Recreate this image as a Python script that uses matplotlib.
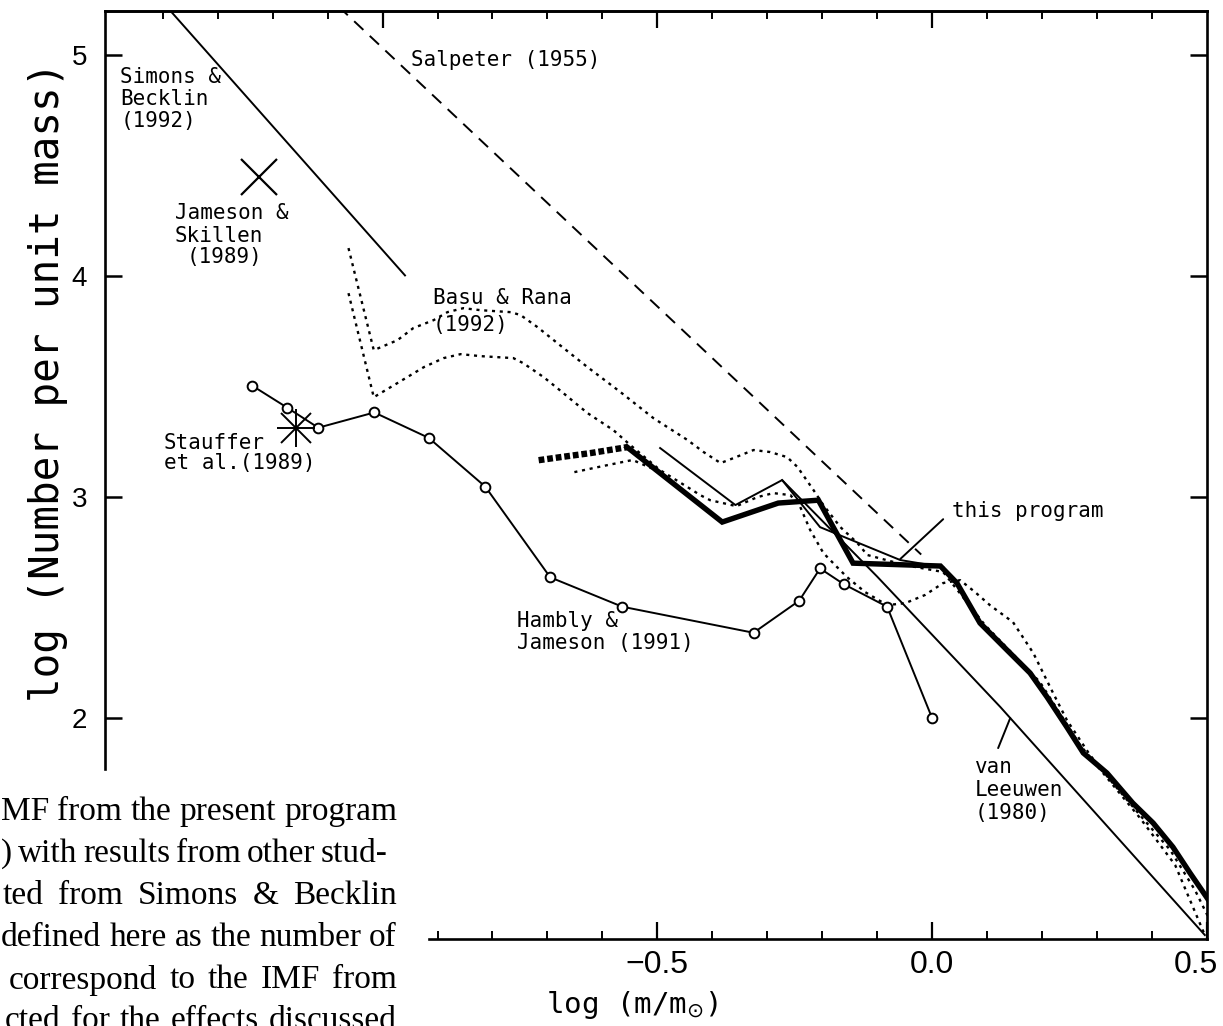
import matplotlib
matplotlib.use("Agg")
import matplotlib.pyplot as plt
import matplotlib.transforms as mtransforms

# ---------------- data (log m, log N) ----------------
simons_x = [-1.40, -0.958]
simons_y = [5.24, 4.00]

salpeter_x = [-1.08, -0.02]
salpeter_y = [5.22, 2.74]

jameson_skillen_x = [-1.225]
jameson_skillen_y = [4.448]

stauffer_x = [-1.158]
stauffer_y = [3.312]

hambly_x = [-1.237, -1.173, -1.117, -1.015, -0.916, -0.813, -0.695, -0.564,
            -0.325, -0.242, -0.204, -0.161, -0.082, 0.0]
hambly_y = [3.504, 3.404, 3.314, 3.383, 3.268, 3.047, 2.637, 2.504,
            2.386, 2.531, 2.677, 2.606, 2.504, 1.999]

basu_upper_x = [-1.062, -1.016, -0.973, -0.944, -0.907, -0.882, -0.853, -0.822,
                -0.767, -0.749, -0.718, -0.682, -0.627, -0.567, -0.507, -0.445,
                -0.416, -0.385, -0.362, -0.325, -0.295, -0.264, -0.245, -0.216,
                -0.198, -0.167, -0.136, -0.118, -0.049, 0.020, 0.096, 0.196,
                0.269, 0.378, 0.442, 0.496]
basu_upper_y = [4.127, 3.665, 3.710, 3.765, 3.801, 3.837, 3.855, 3.846,
                3.837, 3.824, 3.769, 3.697, 3.588, 3.475, 3.357, 3.258,
                3.204, 3.154, 3.176, 3.213, 3.204, 3.181, 3.136, 3.032,
                2.964, 2.864, 2.792, 2.738, 2.692, 2.661, 2.421, 2.163,
                1.878, 1.548, 1.335, 1.018]

basu_lower_x = [-1.062, -1.016, -0.973, -0.925, -0.889, -0.858, -0.822, -0.762,
                -0.744, -0.707, -0.682, -0.627, -0.580, -0.549, -0.495, -0.445,
                -0.422, -0.404, -0.356, -0.318, -0.289, -0.258, -0.240, -0.222,
                -0.198, -0.173, -0.155, -0.122, -0.082, -0.049, -0.013, 0.020,
                0.051, 0.078, 0.105, 0.147, 0.184, 0.220, 0.245, 0.287,
                0.324, 0.378, 0.433, 0.478, 0.505]
basu_lower_y = [3.923, 3.452, 3.516, 3.588, 3.629, 3.647, 3.638, 3.629,
                3.606, 3.543, 3.493, 3.380, 3.303, 3.235, 3.122, 3.045,
                3.009, 2.986, 2.959, 3.000, 3.018, 3.009, 2.955, 2.851,
                2.747, 2.683, 2.638, 2.570, 2.511, 2.520, 2.557, 2.611,
                2.624, 2.570, 2.511, 2.434, 2.294, 2.113, 1.991, 1.833,
                1.719, 1.561, 1.403, 1.222, 1.086]

program_ext_x = [-0.716, -0.676, -0.622, -0.555]
program_ext_y = [3.167, 3.181, 3.199, 3.226]

program_x = [-0.555, -0.382, -0.280, -0.207, -0.144, 0.015, 0.045, 0.087,
             0.136, 0.178, 0.209, 0.245, 0.275, 0.318, 0.365, 0.402, 0.438,
             0.469, 0.509]
program_y = [3.226, 2.887, 2.973, 2.986, 2.701, 2.688, 2.611, 2.430,
             2.308, 2.204, 2.095, 1.959, 1.842, 1.751, 1.615, 1.525, 1.416,
             1.299, 1.154]

short_dot_x = [-0.651, -0.600, -0.545, -0.510]
short_dot_y = [3.113, 3.140, 3.168, 3.130]

thin_x = [-0.495, -0.358, -0.273, -0.204, -0.058, 0.020]
thin_y = [3.222, 2.964, 3.077, 2.864, 2.715, 2.683]

vanleeuwen_x = [-0.273, -0.100, 0.124, 0.496]
vanleeuwen_y = [3.077, 2.640, 2.050, 1.018]

x_major = [-0.5, 0.0, 0.5]
x_major_labels = ["\u22120.5", "0.0", "0.5"]
y_major = [2, 3, 4, 5]
y_major_labels = ["2", "3", "4", "5"]

caption_lines = ["MF from the present program",
                 ") with results from other stud-",
                 "ted from Simons & Becklin",
                 "defined here as the number of",
                 "correspond to the IMF from",
                 "cted for the effects discussed"]

# ---------------- figure ----------------
W, H = 1223, 1026
fig = plt.figure(figsize=(W / 100, H / 100), dpi=100)
x0, x1 = -1.505, 0.5
y0, y1 = 1.0, 5.2
ax = fig.add_axes([105 / W, (H - 939) / H, 1102 / W, 928 / H])
ax.set_xlim(x0, x1)
ax.set_ylim(y0, y1)

lw_spine = 1.9
for s in ax.spines.values():
    s.set_linewidth(lw_spine)
ax.spines['left'].set_bounds(1.77, y1)
ax.spines['bottom'].set_bounds(-0.915, x1)

mono = "DejaVu Sans Mono"
k = 'black'
dots = (0, (1.3, 2.0))

# curves
ax.plot(simons_x, simons_y, color=k, lw=1.4, solid_capstyle='butt')
ax.plot(salpeter_x, salpeter_y, color=k, lw=1.4, ls=(0, (6.5, 4.5)))
ax.plot(basu_upper_x, basu_upper_y, color=k, lw=1.7, ls=dots)
ax.plot(basu_lower_x, basu_lower_y, color=k, lw=1.7, ls=dots)
ax.plot(short_dot_x, short_dot_y, color=k, lw=1.7, ls=dots)
ax.plot(thin_x, thin_y, color=k, lw=1.4)
ax.plot(vanleeuwen_x, vanleeuwen_y, color=k, lw=1.4)
ax.plot(program_ext_x, program_ext_y, color=k, lw=4.6, ls=(0, (0.9, 0.45)))
ax.plot(program_x, program_y, color=k, lw=3.9, solid_joinstyle='miter')
ax.plot(hambly_x, hambly_y, color=k, lw=1.4, marker='o', ms=7,
        mfc='white', mec=k, mew=1.4)
ax.plot(jameson_skillen_x, jameson_skillen_y, ls='none', marker='x', ms=26,
        mew=1.6, color=k)
ax.plot(stauffer_x, stauffer_y, ls='none', marker='+', ms=27, mew=1.4, color=k)
ax.plot(stauffer_x, stauffer_y, ls='none', marker='x', ms=22, mew=1.4, color=k)

# pointer lines
ax.annotate("", xy=(-0.058, 2.72), xytext=(0.020, 2.90),
            arrowprops=dict(arrowstyle='-', lw=1.4, color=k,
                            shrinkA=0, shrinkB=0))
ax.annotate("", xy=(0.142, 2.00), xytext=(0.120, 1.864),
            arrowprops=dict(arrowstyle='-', lw=1.4, color=k,
                            shrinkA=0, shrinkB=0))

# labels on the chart
fs = 15
def lab(x, y, s, **kw):
    ax.text(x, y, s, family=mono, fontsize=fs, ha='left', va='center', **kw)

lab(-1.477, 4.90, "Simons &")
lab(-1.477, 4.80, "Becklin")
lab(-1.477, 4.70, "(1992)")
lab(-1.378, 4.287, "Jameson &")
lab(-1.378, 4.183, "Skillen")
lab(-1.356, 4.088, "(1989)")
lab(-0.949, 4.978, "Salpeter (1955)")
lab(-0.909, 3.900, "Basu & Rana")
lab(-0.909, 3.778, "(1992)")
lab(-1.398, 3.246, "Stauffer")
lab(-1.398, 3.155, "et al.(1989)")
lab(-0.755, 2.439, "Hambly &")
lab(-0.755, 2.339, "Jameson (1991)")
lab(0.036, 2.935, "this program")
lab(0.078, 1.778, "van")
lab(0.078, 1.674, "Leeuwen")
lab(0.078, 1.570, "(1980)")

# ticks
ax.set_xticks(x_major)
ax.set_xticklabels([])
ax.set_xticks([v / 10 for v in range(-9, 5) if v not in (-5, 0)], minor=True)
ax.set_yticks(y_major)
ax.set_yticklabels(y_major_labels)
ax.tick_params(axis='x', which='major', direction='in', length=12, width=1.6,
               top=False, bottom=True)
ax.tick_params(axis='x', which='minor', direction='in', length=6, width=1.4,
               top=False, bottom=True)
ax.tick_params(axis='y', which='major', direction='in', length=12, width=1.8,
               left=True, right=True, pad=13, labelsize=20)
for t in ax.get_yticklabels():
    t.set_family(["Liberation Sans", "DejaVu Sans"])

# x tick labels drawn as text (data x, axes y), the last one nudged inside
xl_trans = mtransforms.blended_transform_factory(ax.transData, ax.transAxes)
x_shift = [0, 0, -11]
for xv, s, dx in zip(x_major, x_major_labels, x_shift):
    tr = xl_trans + mtransforms.ScaledTranslation(dx / 100, 0, fig.dpi_scale_trans)
    ax.text(xv, -0.012, s, transform=tr, ha='center', va='top',
            family=["Liberation Sans", "DejaVu Sans"], fontsize=23)

top = ax.secondary_xaxis('top')
top.set_xticks([-1.0, -0.5, 0.0])
top.set_xticks([v / 10 for v in range(-14, 5) if v not in (-10, -5, 0)], minor=True)
top.tick_params(axis='x', which='major', direction='in', length=12, width=1.6,
                labeltop=False)
top.tick_params(axis='x', which='minor', direction='in', length=6, width=1.4)
top.spines['top'].set_linewidth(lw_spine)

# axis titles
fig.text(48 / W, 1 - 382 / H, "log (Number per unit mass)", rotation=90,
         ha='center', va='center', family=mono, fontsize=29.5)
fig.text(632 / W, 1 - 1005 / H, r"log (m/m$_{\odot}$)", ha='center',
         va='center', family=mono, fontsize=21)

# caption fragment of the printed page, justified between left/right edges
cap_y = [812, 854, 896, 938, 980, 1021]
cap_l = [1, 1, 3, 1, 9, 5]
cap_r = [397, 388, 397, 397, 397, 397]
renderer = fig.canvas.get_renderer()
for line, yy, L, R in zip(caption_lines, cap_y, cap_l, cap_r):
    words = line.split(" ")
    texts = [fig.text(0, 1 - yy / H, w, ha='left', va='center',
                      family=["Liberation Serif", "DejaVu Serif"], fontsize=24)
             for w in words]
    widths = [t.get_window_extent(renderer).width for t in texts]
    gap = (R - L - sum(widths)) / max(len(words) - 1, 1)
    xx = L
    for t, wd in zip(texts, widths):
        t.set_x(xx / W)
        xx += wd + gap

fig.savefig("out.png", dpi=100)
